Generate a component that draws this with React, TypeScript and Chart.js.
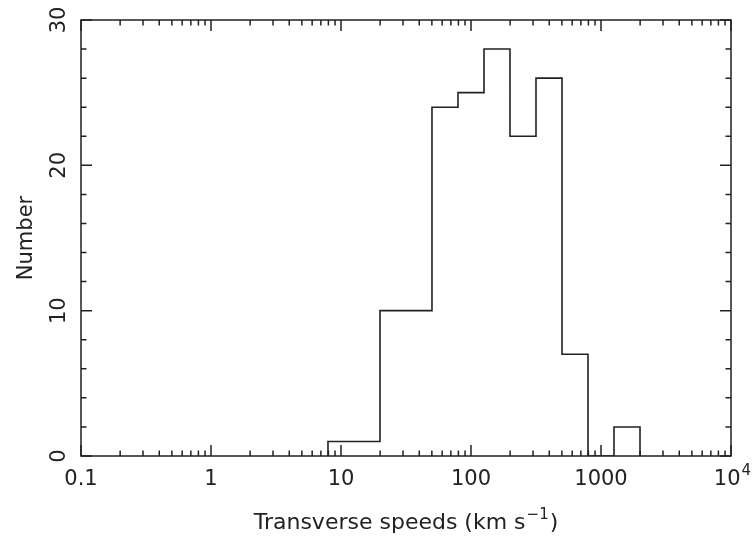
import React, { useEffect, useRef } from "react";
import { Chart, registerables } from "chart.js";

Chart.register(...registerables);

// Histogram bin edges (km/s) and counts per bin
const binEdges = [7.94, 19.95, 50.1, 79.4, 125.9, 199.5, 316.2, 501.2, 794.3, 1258.9, 1995.3];
const counts = [1, 10, 24, 25, 28, 22, 26, 7, 0, 2];

// Axis ticks / labels
const xMajorTicks = [0.1, 1, 10, 100, 1000, 10000];
const xTickLabels = ["0.1", "1", "10", "100", "1000", "10^4"];
const yMajorTicks = [0, 10, 20, 30];
const yTickLabels = ["0", "10", "20", "30"];
const yMinorStep = 2;

const xTitle = "Transverse speeds (km s";
const xTitleSup = "\u22121";
const xTitleEnd = ")";
const yTitle = "Number";

const INK = "#222";
const FONT = "'DejaVu Sans', sans-serif";

function buildOutline() {
  const pts: { x: number; y: number }[] = [];
  pts.push({ x: binEdges[0], y: 0 });
  for (let i = 0; i < counts.length; i++) {
    pts.push({ x: binEdges[i], y: counts[i] });
    pts.push({ x: binEdges[i + 1], y: counts[i] });
  }
  pts.push({ x: binEdges[binEdges.length - 1], y: 0 });
  return pts;
}

const framePlugin = {
  id: "pgframe",
  afterDraw(chart: any) {
    const ctx = chart.ctx as CanvasRenderingContext2D;
    const { left, right, top, bottom } = chart.chartArea;
    const xs = chart.scales.x;
    const ys = chart.scales.y;
    ctx.save();
    ctx.strokeStyle = INK;
    ctx.fillStyle = INK;
    ctx.lineWidth = 1.5;
    ctx.strokeRect(left, top, right - left, bottom - top);

    const MAJ = 11;
    const MIN = 5.5;
    ctx.beginPath();
    // x ticks (bottom & top, inward)
    for (let d = 0; d < xMajorTicks.length; d++) {
      const v = xMajorTicks[d];
      const px = xs.getPixelForValue(v);
      ctx.moveTo(px, bottom);
      ctx.lineTo(px, bottom - MAJ);
      ctx.moveTo(px, top);
      ctx.lineTo(px, top + MAJ);
      if (d < xMajorTicks.length - 1) {
        for (let k = 2; k <= 9; k++) {
          const mx = xs.getPixelForValue(v * k);
          ctx.moveTo(mx, bottom);
          ctx.lineTo(mx, bottom - MIN);
          ctx.moveTo(mx, top);
          ctx.lineTo(mx, top + MIN);
        }
      }
    }
    // y ticks (left & right, inward)
    const yMax = yMajorTicks[yMajorTicks.length - 1];
    for (let v = 0; v <= yMax; v += yMinorStep) {
      const py = ys.getPixelForValue(v);
      const len = v % 10 === 0 ? MAJ : MIN;
      ctx.moveTo(left, py);
      ctx.lineTo(left + len, py);
      ctx.moveTo(right, py);
      ctx.lineTo(right - len, py);
    }
    ctx.stroke();

    // x tick labels
    const TF = `21px ${FONT}`;
    const SF = `15px ${FONT}`;
    ctx.textBaseline = "alphabetic";
    for (let i = 0; i < xMajorTicks.length; i++) {
      const px = xs.getPixelForValue(xMajorTicks[i]);
      const lab = xTickLabels[i];
      if (lab.includes("^")) {
        const [base, exp] = lab.split("^");
        ctx.font = TF;
        const bw = ctx.measureText(base).width;
        ctx.font = SF;
        const ew = ctx.measureText(exp).width;
        const sx = px - (bw + ew) / 2 + 1;
        ctx.textAlign = "left";
        ctx.font = TF;
        ctx.fillText(base, sx, 485);
        ctx.font = SF;
        ctx.fillText(exp, sx + bw + 1, 475);
      } else {
        ctx.font = TF;
        ctx.textAlign = "center";
        ctx.fillText(lab, px, 485);
      }
    }

    // y tick labels (rotated)
    for (let i = 0; i < yMajorTicks.length; i++) {
      const py = ys.getPixelForValue(yMajorTicks[i]);
      ctx.save();
      ctx.translate(65, py);
      ctx.rotate(-Math.PI / 2);
      ctx.textAlign = "center";
      ctx.textBaseline = "alphabetic";
      ctx.font = TF;
      ctx.fillText(yTickLabels[i], 0, 0);
      ctx.restore();
    }

    // x title with superscript
    ctx.font = `22px ${FONT}`;
    const w1 = ctx.measureText(xTitle).width;
    ctx.font = SF;
    const w2 = ctx.measureText(xTitleSup).width;
    ctx.font = `22px ${FONT}`;
    const w3 = ctx.measureText(xTitleEnd).width;
    const total = w1 + w2 + w3 + 2;
    let tx = (left + right) / 2 - total / 2;
    const ty = 529;
    ctx.textAlign = "left";
    ctx.fillText(xTitle, tx, ty);
    tx += w1 + 1;
    ctx.font = SF;
    ctx.fillText(xTitleSup, tx, ty - 10);
    tx += w2 + 1;
    ctx.font = `22px ${FONT}`;
    ctx.fillText(xTitleEnd, tx, ty);

    // y title
    ctx.save();
    ctx.translate(32, (top + bottom) / 2);
    ctx.rotate(-Math.PI / 2);
    ctx.textAlign = "center";
    ctx.font = `21px ${FONT}`;
    ctx.fillText(yTitle, 0, 0);
    ctx.restore();

    ctx.restore();
  },
};

export default function App() {
  const ref = useRef<HTMLCanvasElement | null>(null);
  useEffect(() => {
    if (!ref.current) return;
    const chart = new Chart(ref.current, {
      type: "line",
      data: {
        datasets: [
          {
            data: buildOutline(),
            borderColor: INK,
            borderWidth: 1.6,
            pointRadius: 0,
            tension: 0,
            fill: false,
          },
        ],
      },
      options: {
        animation: false,
        responsive: false,
        maintainAspectRatio: false,
        layout: { padding: { left: 81, right: 21, top: 20, bottom: 81 } },
        plugins: { legend: { display: false }, tooltip: { enabled: false } },
        scales: {
          x: { type: "logarithmic", min: 0.1, max: 10000, display: false },
          y: { type: "linear", min: 0, max: 30, display: false },
        },
      },
      plugins: [framePlugin],
    });
    return () => chart.destroy();
  }, []);
  return (
    <div style={{ position: "fixed", left: 0, top: 0, width: 752, height: 537, background: "#fff" }}>
      <canvas ref={ref} width={752} height={537} />
    </div>
  );
}
